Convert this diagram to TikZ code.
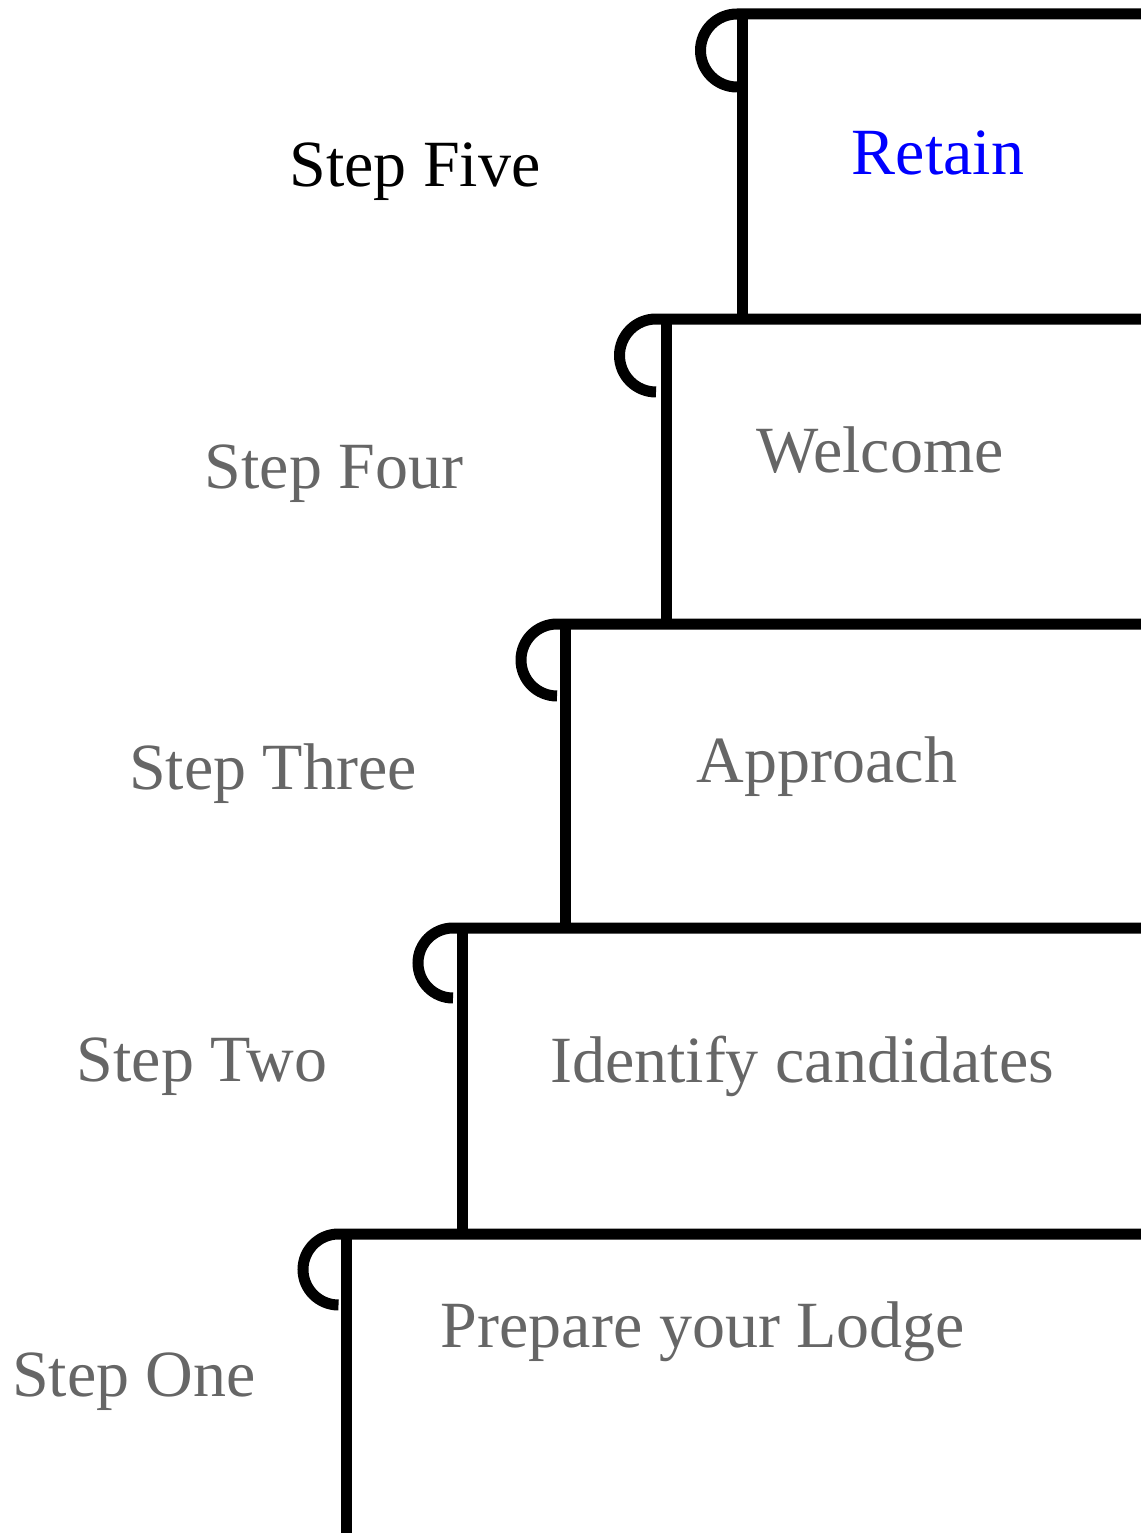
\documentclass[tikz,border=0pt]{standalone}
\usepackage{fontspec}
\setmainfont{Liberation Serif}
\definecolor{txtgray}{HTML}{666666}
\definecolor{txtblue}{HTML}{0000FF}
\tikzset{
  stepline/.style={draw=black, line width=11pt, line cap=butt, line join=miter},
  lbl/.style={font=\fontsize{66}{79}\selectfont, inner sep=0pt, anchor=base},
}
\begin{document}
\begin{tikzpicture}[x=1pt,y=1pt]
\useasboundingbox (0,0) rectangle (1140,-1533);
% Step five
\draw[stepline] (737,-87) arc[start angle=270, end angle=90, radius=36.5pt] -- (1150,-14);
\draw[stepline] (742.5,-14) -- (742.5,-319);
% Step four
\draw[stepline] (656,-392) arc[start angle=270, end angle=90, radius=36.5pt] -- (1150,-319);
\draw[stepline] (666,-319) -- (666,-624);
% Step three
\draw[stepline] (557,-696) arc[start angle=270, end angle=90, radius=36pt] -- (1150,-624);
\draw[stepline] (565,-624) -- (565,-928);
% Step two
\draw[stepline] (453,-998) arc[start angle=270, end angle=90, radius=35pt] -- (1150,-928);
\draw[stepline] (462.5,-928) -- (462.5,-1234);
% Step one
\draw[stepline] (338.5,-1305) arc[start angle=270, end angle=90, radius=35.5pt] -- (1150,-1234);
\draw[stepline] (346,-1234) -- (346,-1545);
% labels
\node[lbl, text=black] (s5) at (415,-187) {Step Five};
\node[lbl, text=txtblue] (t5) at (938,-175) {Retain};
\node[lbl, text=txtgray] (s4) at (334,-488) {Step Four};
\node[lbl, text=txtgray] (t4) at (880,-472) {Welcome};
\node[lbl, text=txtgray] (s3) at (273,-789) {Step Three};
\node[lbl, text=txtgray] (t3) at (827,-782) {Approach};
\node[lbl, text=txtgray] (s2) at (202,-1081) {Step Two};
\node[lbl, text=txtgray] (t2) at (802,-1082) {Identify candidates};
\node[lbl, text=txtgray] (s1) at (134,-1396) {Step One};
\node[lbl, text=txtgray] (t1) at (703,-1347) {Prepare your Lodge};
\end{tikzpicture}
\end{document}
